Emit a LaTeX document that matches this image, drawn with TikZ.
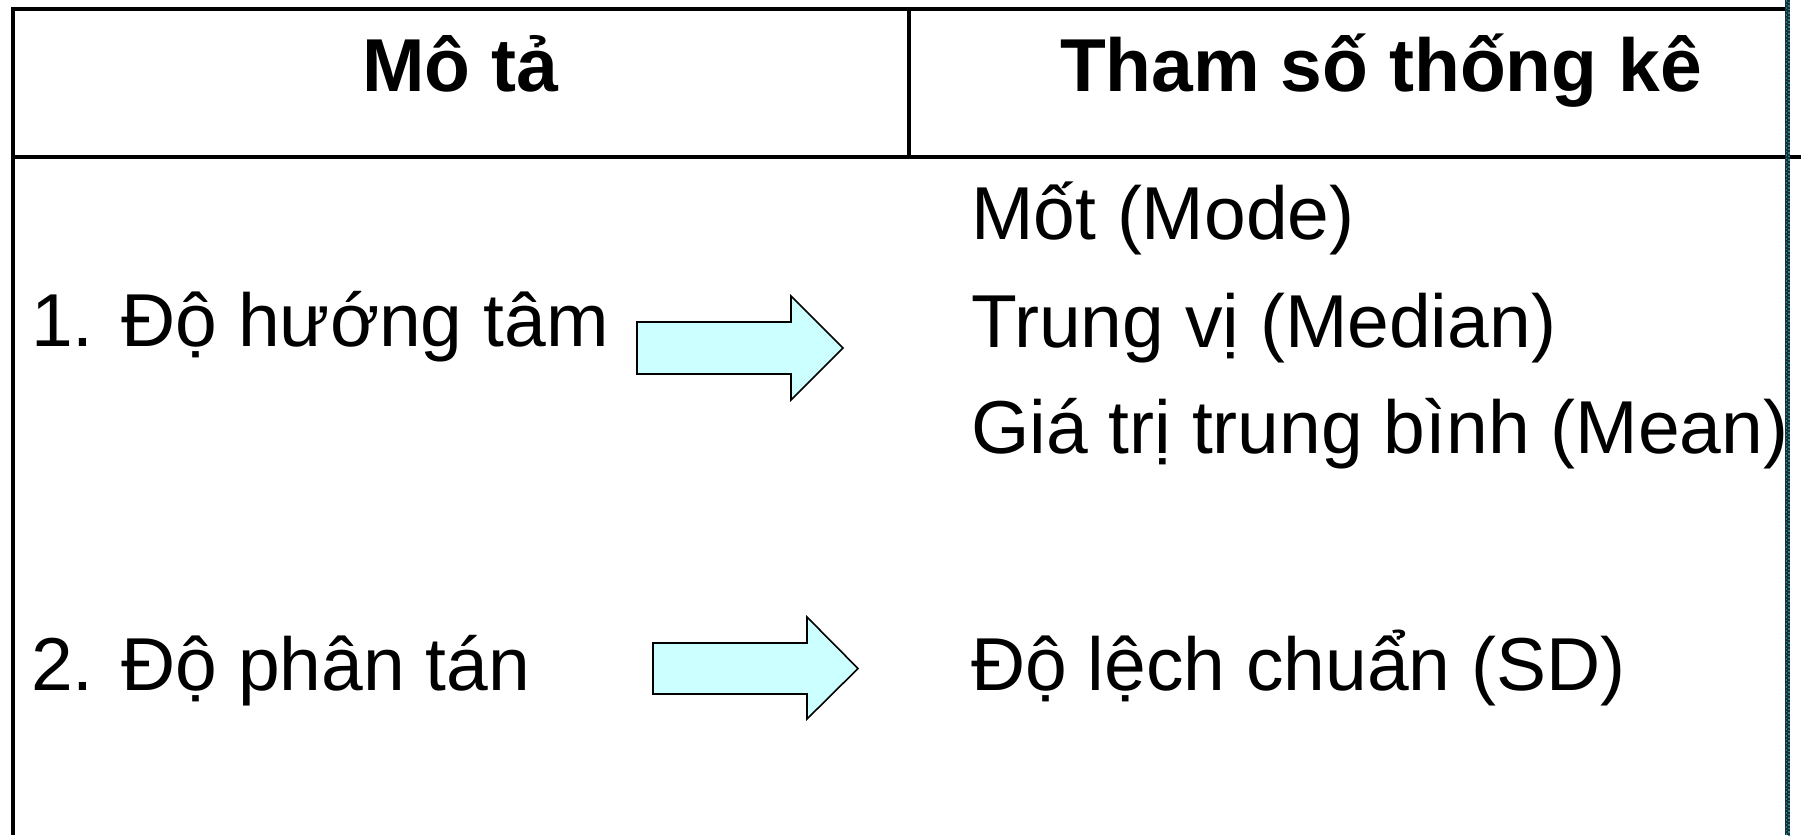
\documentclass[tikz,border=0pt]{standalone}
\usepackage{fontspec}
\setmainfont{Liberation Sans}
\definecolor{arrowfill}{HTML}{CCFFFF}
\definecolor{bandcol}{HTML}{14323A}
\definecolor{banddot}{HTML}{2E7F8A}
\begin{document}
\begin{tikzpicture}[x=1pt,y=-1pt,
  rule/.style={line width=4pt, black},
  fatarrow/.style={draw=black, line width=1.6pt, fill=arrowfill, line join=miter},
  headtxt/.style={font=\fontsize{75}{90}\selectfont\bfseries, anchor=base, inner sep=0pt},
  bodytxt/.style={font=\fontsize{75}{90}\selectfont, anchor=base west, inner sep=0pt}]
\useasboundingbox (0,0) rectangle (1801,835);
\fill[white] (0,0) rectangle (1801,835);
% table rules
\draw[rule] (11,9) -- (1785,9);
\draw[rule] (13,7) -- (13,835);
\draw[rule] (11,157) -- (1801,157);
\draw[rule] (908.7,9) -- (908.7,157);
% dotted band at the right edge
\draw[line width=5pt, bandcol] (1787.5,0) -- (1787.5,835);
\draw[line width=1.5pt, banddot, dash pattern=on 1.5pt off 2pt] (1786.5,0) -- (1786.5,835);
\draw[line width=1.5pt, banddot, dash pattern=on 1.5pt off 2pt, dash phase=1.7pt] (1788.8,0) -- (1788.8,835);
% headers
\node[headtxt] (h1) at (460,91) {Mô tả};
\node[headtxt] (h2) at (1381,91) {Tham số thống kê};
% left column
\node[bodytxt] (l1) at (31,346) {1. Độ hướng tâm};
\node[bodytxt] (l2) at (31,690) {2. Độ phân tán};
% right column
\node[bodytxt] (r1) at (971,239) {Mốt (Mode)};
\node[bodytxt] (r2) at (971,347) {Trung vị (Median)};
\node[bodytxt] (r3) at (971,453) {Giá trị trung bình (Mean)};
\node[bodytxt] (r4) at (971,690) {Độ lệch chuẩn (SD)};
% block arrows
\draw[fatarrow] (637,322) -- (791,322) -- (791,296) -- (843,348) -- (791,400) -- (791,374) -- (637,374) -- cycle;
\draw[fatarrow] (653,643) -- (807,643) -- (807,617) -- (858,668.5) -- (807,719) -- (807,694) -- (653,694) -- cycle;
\end{tikzpicture}
\end{document}
